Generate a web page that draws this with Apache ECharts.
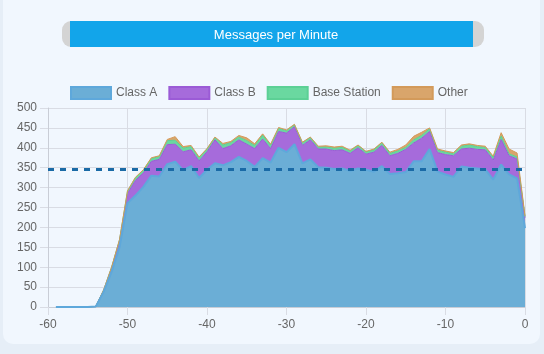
<!DOCTYPE html>
<html>
<head>
<meta charset="utf-8">
<title>Messages per Minute</title>
<script src="https://cdn.jsdelivr.net/npm/echarts@6/dist/echarts.min.js"></script>
<style>
  html, body { margin: 0; padding: 0; background: #e6eef7; }
  #card { position: absolute; left: 3px; top: -12px; width: 537px; height: 356px; background: #f1f7fe; border-radius: 10px; }
  #chart { position: absolute; left: 0; top: 0; width: 544px; height: 354px; }
</style>
</head>
<body>
<div id="card"></div>
<div id="chart"></div>
<script>
// x axis categories: minutes before now
const minutes = [-60, -59, -58, -57, -56, -55, -54, -53, -52, -51, -50,
  -49, -48, -47, -46, -45, -44, -43, -42, -41, -40,
  -39, -38, -37, -36, -35, -34, -33, -32, -31, -30,
  -29, -28, -27, -26, -25, -24, -23, -22, -21, -20,
  -19, -18, -17, -16, -15, -14, -13, -12, -11, -10,
  -9, -8, -7, -6, -5, -4, -3, -2, -1, 0]

// messages per minute, by class (stacked), no data at -60
const classA = [null, 0, 0, 0, 0, 0, 1, 38, 88, 150, 261,
  280, 302, 330, 328, 359, 365, 344, 354, 324, 345,
  361, 356, 364, 377, 367, 352, 374, 363, 400, 389,
  409, 361, 371, 351, 350, 347, 348, 342, 348, 345,
  340, 354, 334, 336, 339, 366, 366, 397, 340, 333,
  327, 353, 350, 348, 346, 320, 358, 333, 323, 198]
const classB = [null, 0, 0, 0, 0, 0, 0, 4, 10, 16, 24,
  38, 35, 36, 43, 49, 44, 46, 41, 43, 45,
  59, 42, 41, 43, 42, 46, 48, 35, 41, 48,
  44, 45, 49, 46, 47, 46, 47, 44, 52, 39,
  49, 52, 46, 50, 57, 46, 58, 44, 48, 50,
  53, 44, 49, 48, 49, 49, 63, 47, 49, 26]
const baseStation = [null, 0, 0, 0, 0, 0, 0, 1, 2, 3, 6,
  7, 7, 7, 7, 10, 10, 9, 8, 8, 7,
  6, 9, 8, 7, 9, 8, 10, 9, 8, 6,
  5, 7, 6, 5, 5, 6, 6, 6, 6, 6,
  6, 7, 6, 6, 5, 8, 7, 7, 6, 6,
  5, 7, 8, 7, 6, 7, 9, 5, 5, 3]
const other = [null, 0, 0, 0, 0, 0, 0, 0, 0, 1, 1,
  1, 1, 2, 2, 3, 9, 4, 3, 2, 1,
  1, 4, 3, 4, 7, 4, 3, 2, 2, 2,
  1, 1, 1, 2, 3, 3, 3, 2, 1, 1,
  2, 1, 3, 4, 6, 9, 8, 2, 3, 3,
  3, 3, 3, 3, 3, 3, 8, 12, 10, 2]

// average line
const averageValue = 345

const font = 'Liberation Sans, Arial, Helvetica, sans-serif'

// Class A sits on top so its blue border shows along the zero run
const seriesDefs = [
  { name: 'Class A', data: classA, fill: '#6baed6', line: '#5ea8db', width: 2, z: 4 },
  { name: 'Class B', data: classB, fill: '#a66bdb', line: '#9b5bd6', width: 1, z: 2 },
  { name: 'Base Station', data: baseStation, fill: '#6ad8a0', line: '#5cd095', width: 1, z: 2 },
  { name: 'Other', data: other, fill: '#d9a56b', line: '#d39a5a', width: 1, z: 2 }
]

const myChart = echarts.init(document.getElementById('chart'), null, { renderer: 'canvas' })

const series = seriesDefs.map(s => ({
  name: s.name,
  type: 'line',
  stack: 'total',
  data: s.data,
  showSymbol: false,
  symbol: 'none',
  smooth: false,
  lineStyle: { width: s.width, color: s.line },
  itemStyle: { color: s.fill, borderColor: s.line, borderWidth: 1 },
  areaStyle: { color: s.fill, opacity: 1 },
  z: s.z
}))

// dashed average line drawn on top of the areas
series.push({
  name: 'Average',
  type: 'line',
  data: [],
  z: 5,
  markLine: {
    silent: true,
    symbol: 'none',
    label: { show: false },
    lineStyle: { width: 3, color: '#1a6aa6', type: [6, 6] },
    data: [{ yAxis: averageValue }]
  }
})

const option = {
  animation: false,
  backgroundColor: 'transparent',
  textStyle: { fontFamily: font },
  title: {
    text: 'Messages per Minute',
    left: 271,
    top: 24,
    textAlign: 'center',
    textStyle: { color: '#ffffff', fontSize: 13, fontWeight: 'normal', fontFamily: font }
  },
  graphic: [
    { type: 'rect', shape: { x: 62, y: 21, width: 422, height: 26, r: 9 }, style: { fill: '#d4d4d4' }, z: -1 },
    { type: 'rect', shape: { x: 70, y: 21, width: 403, height: 26 }, style: { fill: '#12a5ea' }, z: 0 }
  ],
  legend: {
    data: seriesDefs.map(s => s.name),
    left: 65,
    top: 81,
    icon: 'rect',
    itemWidth: 40,
    itemHeight: 12,
    itemGap: 11,
    textStyle: { color: '#666666', fontSize: 12, fontFamily: font }
  },
  grid: { left: 48, right: 19, top: 108, bottom: 47 },
  xAxis: {
    type: 'category',
    data: minutes,
    boundaryGap: false,
    axisLine: { show: true, lineStyle: { color: '#c9cdd6' } },
    axisTick: { show: true, interval: 9, length: 8, lineStyle: { color: '#d9dce4' } },
    axisLabel: { interval: 9, color: '#666666', fontSize: 12, margin: 12 },
    splitLine: { show: true, interval: 9, lineStyle: { color: '#d9dce4' } }
  },
  yAxis: {
    type: 'value',
    min: 0,
    max: 500,
    interval: 50,
    axisLine: { show: true, lineStyle: { color: '#c9cdd6' } },
    axisTick: { show: true, length: 8, lineStyle: { color: '#d9dce4' } },
    axisLabel: { color: '#666666', fontSize: 12, margin: 11 },
    splitLine: { show: true, lineStyle: { color: '#d9dce4' } }
  },
  series: series
}

myChart.setOption(option)
</script>
</body>
</html>
